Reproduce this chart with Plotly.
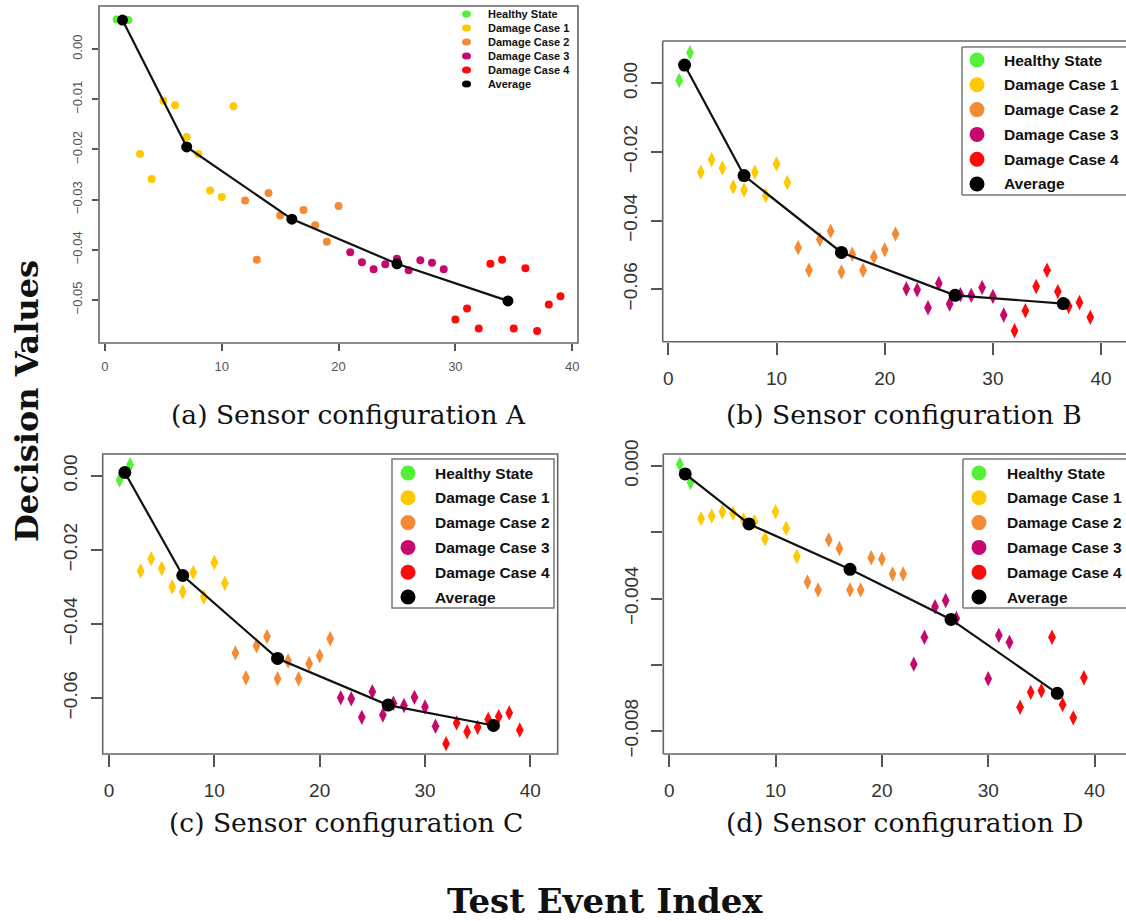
import plotly.graph_objects as go

# ---------------- data ----------------
case_names = ["Healthy State", "Damage Case 1", "Damage Case 2", "Damage Case 3", "Damage Case 4", "Average"]
case_colors = ["#55F03A", "#FFC800", "#F58A35", "#C4086E", "#FF0A0A", "#000000"]

# configuration A
healthy_A_x = [1, 2]
healthy_A_y = [0.0059, 0.0058]
case1_A_x = [3, 4, 5, 6, 7, 8, 9, 10, 11]
case1_A_y = [-0.0209, -0.0259, -0.0103, -0.0112, -0.0175, -0.0209, -0.0282, -0.0295, -0.0114]
case2_A_x = [12, 13, 14, 15, 16, 17, 18, 19, 20]
case2_A_y = [-0.0302, -0.0420, -0.0287, -0.0332, -0.0339, -0.0321, -0.0351, -0.0384, -0.0313]
case3_A_x = [21, 22, 23, 24, 25, 26, 27, 28, 29]
case3_A_y = [-0.0405, -0.0425, -0.0439, -0.0429, -0.0418, -0.0441, -0.0421, -0.0426, -0.0439]
case4_A_x = [30, 31, 32, 33, 34, 35, 36, 37, 38, 39]
case4_A_y = [-0.0539, -0.0517, -0.0557, -0.0428, -0.0420, -0.0557, -0.0437, -0.0562, -0.0509, -0.0493]
avg_A_x = [1.5, 7, 16, 25, 34.5]
avg_A_y = [0.0058, -0.0195, -0.0339, -0.0428, -0.0502]

# configuration B
healthy_B_x = [1, 2]
healthy_B_y = [0.0008, 0.0089]
case1_B_x = [3, 4, 5, 6, 7, 8, 9, 10, 11]
case1_B_y = [-0.0259, -0.0223, -0.0247, -0.0302, -0.0311, -0.0259, -0.0327, -0.0235, -0.0289]
case2_B_x = [12, 13, 14, 15, 16, 17, 18, 19, 20, 21]
case2_B_y = [-0.0479, -0.0545, -0.0455, -0.0431, -0.0550, -0.0498, -0.0545, -0.0506, -0.0485, -0.0439]
case3_B_x = [22, 23, 24, 25, 26, 27, 28, 29, 30, 31]
case3_B_y = [-0.0599, -0.0602, -0.0654, -0.0583, -0.0643, -0.0616, -0.0618, -0.0595, -0.0621, -0.0675]
case4_B_x = [32, 33, 34, 35, 36, 37, 38, 39]
case4_B_y = [-0.0721, -0.0663, -0.0592, -0.0545, -0.0607, -0.0650, -0.0639, -0.0682]
avg_B_x = [1.5, 7, 16, 26.5, 36.5]
avg_B_y = [0.0053, -0.0269, -0.0493, -0.0618, -0.0642]

# configuration C
healthy_C_x = [1, 2]
healthy_C_y = [-0.0011, 0.0030]
case1_C_x = [3, 4, 5, 6, 7, 8, 9, 10, 11]
case1_C_y = [-0.0257, -0.0224, -0.0250, -0.0300, -0.0313, -0.0261, -0.0327, -0.0234, -0.0290]
case2_C_x = [12, 13, 14, 15, 16, 17, 18, 19, 20, 21]
case2_C_y = [-0.0478, -0.0545, -0.0459, -0.0434, -0.0548, -0.0500, -0.0548, -0.0507, -0.0486, -0.0440]
case3_C_x = [22, 23, 24, 25, 26, 27, 28, 29, 30, 31]
case3_C_y = [-0.0599, -0.0602, -0.0652, -0.0583, -0.0646, -0.0614, -0.0620, -0.0598, -0.0624, -0.0676]
case4_C_x = [32, 33, 34, 35, 36, 37, 38, 39]
case4_C_y = [-0.0723, -0.0667, -0.0691, -0.0679, -0.0658, -0.0650, -0.0640, -0.0686]
avg_C_x = [1.5, 7, 16, 26.5, 36.5]
avg_C_y = [0.0009, -0.0269, -0.0493, -0.0619, -0.0674]

# configuration D
healthy_D_x = [1, 2]
healthy_D_y = [0.00005, -0.0005]
case1_D_x = [3, 4, 5, 6, 7, 8, 9, 10, 11, 12]
case1_D_y = [-0.00159, -0.00151, -0.00138, -0.00143, -0.00163, -0.00168, -0.00220, -0.00138, -0.00188, -0.00273]
case2_D_x = [13, 14, 15, 16, 17, 18, 19, 20, 21, 22]
case2_D_y = [-0.00350, -0.00374, -0.00223, -0.00249, -0.00374, -0.00374, -0.00277, -0.00281, -0.00326, -0.00326]
case3_D_x = [23, 24, 25, 26, 27, 30, 31, 32]
case3_D_y = [-0.00598, -0.00517, -0.00425, -0.00406, -0.00460, -0.00642, -0.00511, -0.00532]
case4_D_x = [33, 34, 35, 36, 37, 38, 39]
case4_D_y = [-0.00728, -0.00683, -0.00678, -0.00517, -0.00720, -0.00760, -0.00639]
avg_D_x = [1.5, 7.5, 17, 26.5, 36.5]
avg_D_y = [-0.00024, -0.00175, -0.00312, -0.00463, -0.00686]

x_ticks = [0, 10, 20, 30, 40]
y_ticks = {
    "A": ([0, -0.01, -0.02, -0.03, -0.04, -0.05], ["0.00", "\u22120.01", "\u22120.02", "\u22120.03", "\u22120.04", "\u22120.05"]),
    "B": ([0, -0.02, -0.04, -0.06], ["0.00", "\u22120.02", "\u22120.04", "\u22120.06"]),
    "C": ([0, -0.02, -0.04, -0.06], ["0.00", "\u22120.02", "\u22120.04", "\u22120.06"]),
    "D": ([0, -0.002, -0.004, -0.006, -0.008], ["0.000", "", "\u22120.004", "", "\u22120.008"]),
}

captions = ["(a) Sensor configuration A", "(b) Sensor configuration B",
            "(c) Sensor configuration C", "(d) Sensor configuration D"]

# ---------------- page geometry (pixels) ----------------
W, H = 1126, 921
SANS = "Liberation Sans, Arial, sans-serif"
SERIF = "DejaVu Serif, Liberation Serif, serif"

panels = {
    # key: (axis suffix, frame px [left, right, top, bottom], x range, y range, frame closed on right)
    "A": ("", [99, 578, 6, 343], [-0.51, 40.5], [-0.0586, 0.0086], True),
    "B": ("2", [662.7, 1126, 41, 341.7], [-0.52, 42.3], [-0.0753, 0.0123], False),
    "C": ("3", [102.7, 557.7, 454, 754], [-0.6, 42.6], [-0.0751, 0.0059], True),
    "D": ("4", [663.3, 1126, 454, 754], [-0.56, 42.96], [-0.00869, 0.00036], False),
}

series = {
    "A": [(healthy_A_x, healthy_A_y), (case1_A_x, case1_A_y), (case2_A_x, case2_A_y),
          (case3_A_x, case3_A_y), (case4_A_x, case4_A_y), (avg_A_x, avg_A_y)],
    "B": [(healthy_B_x, healthy_B_y), (case1_B_x, case1_B_y), (case2_B_x, case2_B_y),
          (case3_B_x, case3_B_y), (case4_B_x, case4_B_y), (avg_B_x, avg_B_y)],
    "C": [(healthy_C_x, healthy_C_y), (case1_C_x, case1_C_y), (case2_C_x, case2_C_y),
          (case3_C_x, case3_C_y), (case4_C_x, case4_C_y), (avg_C_x, avg_C_y)],
    "D": [(healthy_D_x, healthy_D_y), (case1_D_x, case1_D_y), (case2_D_x, case2_D_y),
          (case3_D_x, case3_D_y), (case4_D_x, case4_D_y), (avg_D_x, avg_D_y)],
}

# legend boxes: frame px [left, right, top, bottom] (None = no frame), swatch x, text x,
# first row y, row step, swatch diameter, font size
legend_boxes = {
    "A": (None, 466.5, 486, 14, 14, 9, 11),
    "B": ([962, 1140, 47, 195], 977, 1002, 60, 24.8, 15, 15.5),
    "C": ([392, 554, 459, 608], 408, 433, 473, 24.8, 15, 15.5),
    "D": ([963, 1140, 459, 608], 979, 1005, 473, 24.8, 15, 15.5),
}


def px_x(v):
    return v / W


def px_y(v):
    return 1 - v / H


fig = go.Figure()
shapes = []
annotations = []
frame_line = dict(color="#666666", width=1.6)

for key, (suf, box, xr, yr, closed) in panels.items():
    xa, ya = "x" + suf, "y" + suf
    small = key == "A"
    sym = "circle" if small else "diamond-tall"
    pt_size = 8 if small else 11
    avg_size = 11 if small else 13
    groups = series[key]
    # scattered decision values per damage state
    for i in range(5):
        gx, gy = groups[i]
        fig.add_trace(go.Scatter(
            x=gx, y=gy, mode="markers", xaxis=xa, yaxis=ya, showlegend=False,
            marker=dict(symbol=sym, size=pt_size, color=case_colors[i], line=dict(width=0)),
            name=case_names[i]))
    # average curve
    axx, axy = groups[5]
    fig.add_trace(go.Scatter(
        x=axx, y=axy, mode="lines+markers", xaxis=xa, yaxis=ya, showlegend=False,
        line=dict(color="#111111", width=2.2),
        marker=dict(symbol="circle", size=avg_size, color="#000000"), name="Average"))

    l, r, t, b = box
    dom_x = [px_x(l), min(1.0, px_x(r))]
    dom_y = [px_y(b), px_y(t)]
    tickfont = (dict(family=SANS, size=13, color="#555555") if small
                else dict(family=SANS, size=19, color="#333333"))
    ticklen = 7 if small else 12
    yt_vals, yt_text = y_ticks[key]
    fig.layout["xaxis" + suf] = dict(
        domain=dom_x, range=xr, anchor=ya, showgrid=False, zeroline=False, showline=False,
        tickvals=x_ticks, ticktext=[str(v) for v in x_ticks], ticks="outside", ticklen=ticklen,
        tickwidth=1.5, tickcolor="#555555", tickfont=tickfont, automargin=False,
        ticklabelstandoff=4 if small else 7)
    fig.layout["yaxis" + suf] = dict(
        domain=dom_y, range=yr, anchor=xa, showgrid=False, zeroline=False, showline=False,
        tickvals=yt_vals, ticktext=yt_text, ticks="outside", ticklen=ticklen - 1,
        tickwidth=1.5, tickcolor="#555555", tickfont=tickfont, tickangle=-90, automargin=False,
        ticklabelstandoff=5 if small else 6)
    # plot frame
    if closed:
        shapes.append(dict(type="rect", xref="paper", yref="paper",
                           x0=px_x(l), x1=px_x(r), y0=px_y(b), y1=px_y(t),
                           line=frame_line, layer="below"))
    else:
        for (x0, y0, x1, y1) in [(l, t, l, b), (l, t, r, t), (l, b, r, b)]:
            shapes.append(dict(type="line", xref="paper", yref="paper",
                               x0=px_x(x0), x1=px_x(x1), y0=px_y(y0), y1=px_y(y1),
                               line=frame_line, layer="below"))

    # legend
    frame, sx, tx, y0, step, dia, fsize = legend_boxes[key]
    if frame is not None:
        fl, fr, ft, fb = frame
        fr = min(fr, W)
        if fr >= W:
            shapes.append(dict(type="rect", xref="paper", yref="paper",
                               x0=px_x(fl), x1=1.0, y0=px_y(fb), y1=px_y(ft),
                               fillcolor="white", line=dict(width=0), layer="above"))
            for (a0, b0, a1, b1) in [(fl, ft, fl, fb), (fl, ft, fr, ft), (fl, fb, fr, fb)]:
                shapes.append(dict(type="line", xref="paper", yref="paper",
                                   x0=px_x(a0), x1=px_x(a1), y0=px_y(b0), y1=px_y(b1),
                                   line=dict(color="#777777", width=1.5), layer="above"))
        else:
            shapes.append(dict(type="rect", xref="paper", yref="paper",
                               x0=px_x(fl), x1=px_x(fr), y0=px_y(fb), y1=px_y(ft),
                               fillcolor="white", line=dict(color="#777777", width=1.5),
                               layer="above"))
    rx = dia / 2.0
    ry = dia / 2.0 * (0.8 if key == "A" else 1.0)
    for i, nm in enumerate(case_names):
        cy = y0 + i * step
        shapes.append(dict(type="circle", xref="paper", yref="paper",
                           x0=px_x(sx - rx), x1=px_x(sx + rx), y0=px_y(cy + ry), y1=px_y(cy - ry),
                           fillcolor=case_colors[i], line=dict(width=0), layer="above"))
        annotations.append(dict(text="<b>" + nm + "</b>", xref="paper", yref="paper",
                                x=px_x(tx), y=px_y(cy), xanchor="left", yanchor="middle",
                                showarrow=False,
                                font=dict(family=SANS, size=fsize, color="#111111")))

# sub-figure captions
cap_pos = [(348, 414), (904, 414), (346, 822), (904, 822)]
for txt, (cx, cy) in zip(captions, cap_pos):
    annotations.append(dict(text=txt, xref="paper", yref="paper", x=px_x(cx), y=px_y(cy),
                            xanchor="center", yanchor="middle", showarrow=False,
                            font=dict(family=SERIF, size=26.5, color="#111111")))

# shared axis titles
annotations.append(dict(text="<b>Decision Values</b>", xref="paper", yref="paper",
                        x=px_x(27), y=px_y(401), xanchor="center", yanchor="middle",
                        textangle=-90, showarrow=False,
                        font=dict(family=SERIF, size=32, color="#111111")))
annotations.append(dict(text="<b>Test Event Index</b>", xref="paper", yref="paper",
                        x=px_x(605), y=px_y(901), xanchor="center", yanchor="middle",
                        showarrow=False, font=dict(family=SERIF, size=34, color="#111111")))

fig.update_layout(
    width=W, height=H, margin=dict(l=0, r=0, t=0, b=0, autoexpand=False),
    paper_bgcolor="white", plot_bgcolor="white", showlegend=False,
    shapes=shapes, annotations=annotations,
)

fig.write_html("out.html")
